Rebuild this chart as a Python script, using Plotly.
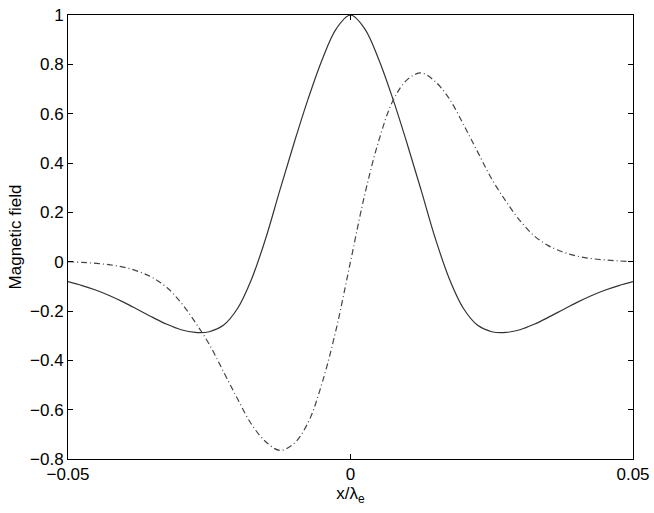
import plotly.graph_objects as go

# positions along x / lambda_e
x = [-0.05, -0.0475, -0.045, -0.0425, -0.04, -0.0375, -0.035, -0.0325, -0.03, -0.0275,
     -0.025, -0.0225, -0.02, -0.0175, -0.015, -0.0125, -0.01, -0.0075, -0.005, -0.0025,
     0.0, 0.0025, 0.005, 0.0075, 0.01, 0.0125, 0.015, 0.0175, 0.02, 0.0225,
     0.025, 0.0275, 0.03, 0.0325, 0.035, 0.0375, 0.04, 0.0425, 0.045, 0.0475, 0.05]

# solid curve
field_solid = [-0.081, -0.097, -0.116, -0.139, -0.166, -0.196, -0.226, -0.254, -0.276, -0.287,
               -0.284, -0.258, -0.190, -0.070, 0.095, 0.290, 0.480, 0.660, 0.820, 0.945,
               1.000, 0.945, 0.820, 0.660, 0.480, 0.290, 0.095, -0.070, -0.190, -0.258,
               -0.284, -0.287, -0.276, -0.254, -0.226, -0.196, -0.166, -0.139, -0.116, -0.097, -0.081]

# dash-dot curve
field_dashdot = [0.000, -0.003, -0.007, -0.013, -0.023, -0.040, -0.065, -0.105, -0.166, -0.245,
                 -0.335, -0.445, -0.556, -0.660, -0.730, -0.765, -0.737, -0.652, -0.490, -0.270,
                 0.000, 0.270, 0.490, 0.652, 0.737, 0.765, 0.730, 0.660, 0.556, 0.445,
                 0.335, 0.245, 0.166, 0.105, 0.065, 0.040, 0.023, 0.013, 0.007, 0.003, 0.000]

x_ticks = [-0.05, 0, 0.05]
x_tick_text = ["\u22120.05", "0", "0.05"]
y_ticks = [-0.8, -0.6, -0.4, -0.2, 0, 0.2, 0.4, 0.6, 0.8, 1]
y_tick_text = ["\u22120.8", "\u22120.6", "\u22120.4", "\u22120.2", "0", "0.2", "0.4", "0.6", "0.8", "1"]

fig = go.Figure()
fig.add_trace(go.Scatter(x=x, y=field_solid, mode="lines", line_shape="spline",
                         line=dict(color="#333333", width=1.2), showlegend=False))
fig.add_trace(go.Scatter(x=x, y=field_dashdot, mode="lines", line_shape="spline",
                         line=dict(color="#444444", width=1.2, dash="6px,3px,1px,3px"),
                         showlegend=False))

axis_style = dict(showline=True, linecolor="black", linewidth=1, mirror="ticks",
                  ticks="inside", ticklen=5, tickcolor="black", showgrid=False,
                  zeroline=False, automargin=False, ticklabeloverflow="allow",
                  tickfont=dict(size=17, color="black"))

fig.update_xaxes(range=[-0.05, 0.05], tickvals=x_ticks, ticktext=x_tick_text,
                 title=dict(text="x/\u03bb<sub>e</sub>", font=dict(size=17, color="black"),
                            standoff=0), **axis_style)
fig.update_yaxes(range=[-0.8, 1], tickvals=y_ticks, ticktext=y_tick_text,
                 title=dict(text="Magnetic field", font=dict(size=17, color="black"),
                            standoff=4), **axis_style)

fig.update_layout(width=654, height=513, plot_bgcolor="white", paper_bgcolor="white",
                  margin=dict(l=68, r=21, t=15, b=54),
                  font=dict(family="Liberation Sans, Arial, sans-serif", color="black"))

# drop the page's default body margin so the figure sits at the window corner
fig.write_html("out.html", config={"displayModeBar": False},
               post_script="document.body.style.margin='0';")
